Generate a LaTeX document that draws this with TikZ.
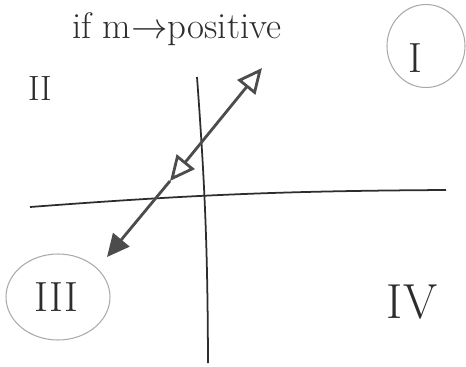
\documentclass[tikz,border=0pt]{standalone}
\usepackage{tikz}
\usetikzlibrary{arrows.meta,positioning,shapes.geometric}
\definecolor{crayon}{RGB}{45,45,45}
\definecolor{crayonClair}{RGB}{170,170,170}

\begin{document}
\begin{tikzpicture}[font=\Large,
  numeral/.style={text=crayon,font=\fontsize{24}{28}\selectfont,inner sep=0pt},
  axe/.style={draw=crayon,line width=1pt},
  fleche/.style={draw=crayon!85,line width=1.6pt},
  entoure/.style={ellipse,draw=crayonClair,line width=0.6pt}]

  \useasboundingbox (0,0) rectangle (9.32,7.32);

  \node[text=crayon,font=\fontsize{21}{25}\selectfont,anchor=base west,inner sep=0pt]
    (titre) at (1.44,6.56) {if m$\rightarrow$positive};

  % axes
  \coordinate (gauche) at (0.6,3.18);
  \coordinate (droite) at (8.92,3.52);
  \coordinate (haut)   at (3.94,5.78);
  \coordinate (bas)    at (4.16,0.06);
  \draw[axe] (gauche) to[bend left=2] (droite);
  \draw[axe] (haut) to[bend left=2] (bas);

  % the line with slope m
  \coordinate (pointe) at (5.24,5.96);
  \coordinate (milieu) at (3.40,3.70);
  \coordinate (queue)  at (2.14,2.18);
  \draw[fleche,{Triangle[open,length=0.5cm,width=0.46cm]}-{Triangle[open,length=0.5cm,width=0.46cm]}]
    (milieu) -- (pointe);
  \draw[fleche,-{Triangle[length=0.45cm,width=0.42cm]}] (milieu) -- (queue);

  % quadrants
  \node[numeral] (quadI)   at (8.30,6.16) {I};
  \node[entoure,minimum width=1.56cm,minimum height=1.66cm] (cercleI) at (8.52,6.40) {};
  \node[numeral,font=\fontsize{20}{24}\selectfont] (quadII) at (0.80,5.56) {II};
  \node[numeral] (quadIII) at (1.12,1.38) {III};
  \node[entoure,minimum width=2.08cm,minimum height=1.72cm] (cercleIII) at (1.16,1.38) {};
  \node[numeral,font=\fontsize{28}{32}\selectfont] (quadIV) at (8.24,1.28) {IV};
\end{tikzpicture}
\end{document}
